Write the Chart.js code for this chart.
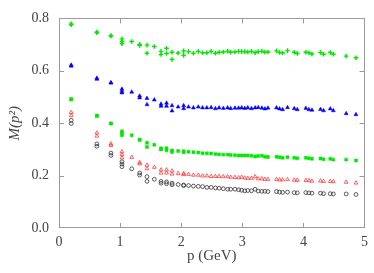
<!DOCTYPE html>
<html>
<head>
<meta charset="utf-8">
<script src="https://cdn.jsdelivr.net/npm/chart.js@4/dist/chart.umd.min.js"></script>
<style>
html,body{margin:0;padding:0;background:#fff;}
canvas{display:block;}
</style>
</head>
<body>
<canvas id="c" width="374" height="273"></canvas>
<script>
// momentum p (GeV) - shared by all series
const momentum = [0.2,0.2,0.62,0.62,0.85,0.85,1.03,1.03,1.03,1.19,1.32,1.32,1.44,1.44,1.56,1.67,1.67,1.76,1.76,1.85,1.85,1.95,2.04,2.04,2.12,2.2,2.28,2.35,2.42,2.49,2.56,2.62,2.69,2.76,2.81,2.88,2.94,2.99,3.04,3.09,3.15,3.21,3.26,3.32,3.37,3.42,3.56,3.61,3.66,3.74,3.85,3.90,4.04,4.09,4.14,4.28,4.33,4.44,4.49,4.70,4.86];

const greenStars = [0.779,0.776,0.748,0.745,0.734,0.734,0.722,0.703,0.712,0.712,0.701,0.697,0.698,0.667,0.693,0.674,0.662,0.686,0.666,0.671,0.643,0.668,0.676,0.659,0.673,0.667,0.674,0.669,0.669,0.674,0.667,0.671,0.672,0.675,0.671,0.672,0.674,0.673,0.673,0.672,0.674,0.669,0.673,0.675,0.671,0.672,0.676,0.670,0.668,0.677,0.671,0.666,0.671,0.669,0.664,0.670,0.663,0.670,0.663,0.656,0.650];

const blueTriangles = [0.622,0.618,0.572,0.568,0.554,0.554,0.530,0.516,0.522,0.519,0.504,0.497,0.495,0.471,0.489,0.473,0.465,0.477,0.465,0.467,0.447,0.462,0.467,0.456,0.462,0.459,0.462,0.459,0.459,0.460,0.456,0.459,0.457,0.459,0.456,0.458,0.458,0.459,0.457,0.459,0.456,0.459,0.460,0.458,0.455,0.458,0.459,0.455,0.452,0.460,0.456,0.452,0.457,0.452,0.450,0.453,0.448,0.455,0.448,0.437,0.433];

const greenSquares = [0.492,0.490,0.429,0.427,0.399,0.399,0.369,0.354,0.362,0.354,0.337,0.337,0.325,0.309,0.318,0.304,0.300,0.304,0.297,0.296,0.290,0.294,0.293,0.289,0.291,0.289,0.288,0.285,0.285,0.284,0.282,0.281,0.280,0.280,0.279,0.278,0.277,0.277,0.277,0.277,0.276,0.273,0.275,0.276,0.272,0.271,0.272,0.270,0.268,0.270,0.268,0.266,0.268,0.266,0.264,0.265,0.262,0.264,0.261,0.261,0.258];

const redOpenTriangles = [0.441,0.429,0.363,0.351,0.321,0.315,0.291,0.280,0.268,0.270,0.250,0.245,0.240,0.226,0.232,0.222,0.210,0.222,0.210,0.218,0.206,0.208,0.208,0.204,0.205,0.202,0.202,0.199,0.199,0.197,0.197,0.197,0.196,0.196,0.194,0.193,0.192,0.194,0.191,0.190,0.190,0.196,0.188,0.188,0.186,0.186,0.186,0.184,0.184,0.185,0.183,0.182,0.182,0.181,0.179,0.180,0.178,0.178,0.177,0.175,0.172];

const blackOpenCircles = [0.411,0.399,0.321,0.312,0.286,0.277,0.253,0.244,0.234,0.226,0.210,0.202,0.196,0.178,0.186,0.178,0.171,0.176,0.169,0.171,0.165,0.166,0.164,0.162,0.162,0.160,0.159,0.158,0.155,0.155,0.153,0.152,0.150,0.148,0.148,0.148,0.146,0.144,0.142,0.143,0.142,0.148,0.141,0.140,0.140,0.139,0.139,0.137,0.136,0.137,0.135,0.134,0.135,0.134,0.133,0.133,0.131,0.131,0.130,0.130,0.128];

const xTicks = [0,1,2,3,4,5];
const yTicks = [0.0,0.2,0.4,0.6,0.8];

function pts(vals){ return momentum.map((p,i)=>({x:p,y:vals[i]})); }

const frameColor = '#9a9a9a';
const labelFont = {family:'"Liberation Serif", serif', size:14};

const framePlugin = {
  id:'frame',
  beforeDatasetsDraw(chart){
    const {ctx, chartArea:{left,right,top,bottom}, scales:{x,y}} = chart;
    ctx.save();
    ctx.strokeStyle = frameColor;
    ctx.lineWidth = 1;
    ctx.strokeRect(Math.round(left)+0.5, Math.round(top)+0.5, Math.round(right-left)-1, Math.round(bottom-top)-1);
    ctx.beginPath();
    xTicks.forEach(v=>{
      if (v<=x.min || v>=x.max) return;
      const px = Math.round(x.getPixelForValue(v))+0.5;
      ctx.moveTo(px,bottom); ctx.lineTo(px,bottom-5);
      ctx.moveTo(px,top); ctx.lineTo(px,top+5);
    });
    yTicks.forEach(v=>{
      if (v<=y.min || v>=y.max) return;
      const py = Math.round(y.getPixelForValue(v))+0.5;
      ctx.moveTo(left,py); ctx.lineTo(left+5,py);
      ctx.moveTo(right,py); ctx.lineTo(right-5,py);
    });
    ctx.stroke();
    ctx.restore();
  }
};

new Chart(document.getElementById('c'), {
  type:'scatter',
  data:{
    datasets:[
      {data:pts(blackOpenCircles), pointStyle:'circle', radius:1.9, borderColor:'#333', backgroundColor:'rgba(0,0,0,0)', borderWidth:0.8},
      {data:pts(redOpenTriangles), pointStyle:'triangle', radius:2.2, borderColor:'#ff3a3a', backgroundColor:'rgba(0,0,0,0)', borderWidth:0.8},
      {data:pts(greenSquares), pointStyle:'rect', radius:2.1, borderColor:'#00e800', backgroundColor:'#00e800', borderWidth:0.5},
      {data:pts(blueTriangles), pointStyle:'triangle', radius:2.3, borderColor:'#0000ff', backgroundColor:'#0000ff', borderWidth:0.5},
      {data:pts(greenStars), pointStyle:'cross', radius:2.3, borderColor:'#00e800', backgroundColor:'#00e800', borderWidth:1.4}
    ]
  },
  options:{
    responsive:false,
    animation:false,
    devicePixelRatio:1,
    layout:{padding:{top:5,right:3,left:0,bottom:0}},
    plugins:{legend:{display:false}, tooltip:{enabled:false}},
    scales:{
      x:{
        type:'linear', min:0, max:5,
        afterFit(s){ s.height = 45; },
        afterBuildTicks(s){ s.ticks = xTicks.map(v=>({value:v})); },
        ticks:{padding:6, color:'#444', font:labelFont, maxRotation:0, callback:v=>String(v)},
        grid:{display:false, drawTicks:false},
        border:{display:false},
        title:{display:true, text:'p (GeV)', color:'#444', font:{family:'"Liberation Serif", serif', size:15}, padding:{top:0,bottom:8}}
      },
      y:{
        type:'linear', min:0, max:0.8,
        afterFit(s){ s.width = 59; },
        afterBuildTicks(s){ s.ticks = yTicks.map(v=>({value:v})); },
        ticks:{padding:10, color:'#444', font:labelFont, callback:v=>Number(v).toFixed(1)},
        grid:{display:false, drawTicks:false},
        border:{display:false},
        title:{display:true, text:'M(p²)', color:'#444', font:{family:'"Liberation Serif", serif', size:15, style:'italic'}, padding:{top:6,bottom:0}}
      }
    }
  },
  plugins:[framePlugin]
});
</script>
</body>
</html>
